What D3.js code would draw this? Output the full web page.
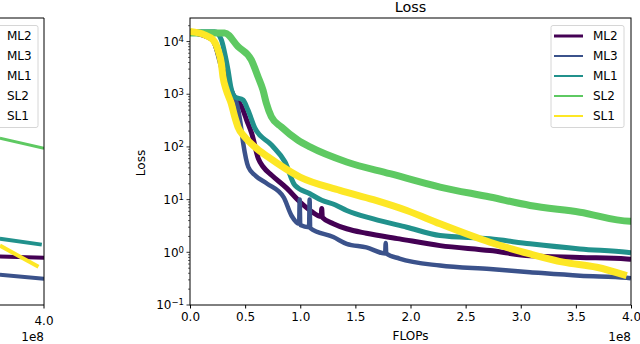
<!DOCTYPE html>
<html>
<head>
<meta charset="utf-8">
<script src="https://cdn.jsdelivr.net/npm/d3@7"></script>
<style>
  body { margin: 0; background: #fff; }
  svg { display: block; font-family: "DejaVu Sans", sans-serif; }
</style>
</head>
<body>
<div id="chart"></div>
<script>
// series names in legend order (viridis)
const names = ["ML2", "ML3", "ML1", "SL2", "SL1"];
const colors = ["#440154", "#3b528b", "#21918c", "#5ec962", "#fde725"];

// x in units of 1e8 FLOPs, y = loss
const ml2X = [0, 0.2, 0.3, 0.4, 0.469, 0.514, 0.56, 0.62, 0.665, 0.741, 0.877, 0.998, 1.1, 1.19, 1.195, 1.2, 1.3, 1.421, 1.6, 1.9, 2.268, 2.721, 3.084, 3.537, 3.961, 4.0];
const ml2Y = [15000, 11000, 3000, 900, 578, 323, 180, 60, 41.6, 29, 16.5, 9, 6, 4.8, 6.8, 4.6, 3.5, 2.8, 2.3, 1.8, 1.34, 1.08, 0.86, 0.8, 0.75, 0.74];

const ml3X = [0, 0.2, 0.3, 0.4, 0.424, 0.454, 0.483, 0.529, 0.59, 0.7, 0.85, 0.92, 0.99, 0.995, 1.0, 1.08, 1.085, 1.09, 1.3, 1.421, 1.6, 1.77, 1.775, 1.78, 1.9, 2.268, 2.721, 3.084, 3.537, 3.961, 4.0];
const ml3Y = [15000, 11000, 2500, 900, 671, 323, 116, 41.6, 29, 20, 11, 5, 3.5, 10, 3.3, 3.0, 10, 2.9, 1.95, 1.45, 1.24, 0.95, 1.5, 0.95, 0.76, 0.56, 0.48, 0.42, 0.36, 0.33, 0.32];

const ml1X = [0, 0.224, 0.284, 0.315, 0.345, 0.37, 0.406, 0.481, 0.526, 0.59, 0.741, 0.862, 0.952, 1.088, 1.195, 1.315, 1.421, 1.663, 1.966, 2.268, 2.721, 3.084, 3.537, 3.961, 4.0];
const ml1Y = [15300, 15300, 10800, 6010, 2890, 1390, 896, 776, 500, 224, 108, 51.8, 18.6, 12.9, 9.7, 8.0, 6.22, 4.32, 2.99, 2.08, 1.8, 1.45, 1.16, 1.0, 0.98];

const sl2X = [0, 0.315, 0.435, 0.556, 0.617, 0.662, 0.692, 0.738, 0.828, 0.98, 1.088, 1.421, 1.814, 2.268, 2.721, 3.084, 3.537, 3.991, 4.0];
const sl2Y = [14500, 14500, 8040, 4480, 2150, 1200, 680, 373, 240, 134, 100, 51.8, 31.1, 17.3, 11.2, 7.75, 5.78, 3.9, 3.9];

const sl1X = [0, 0.133, 0.209, 0.254, 0.284, 0.299, 0.329, 0.374, 0.406, 0.435, 0.496, 0.587, 0.708, 0.998, 1.36, 1.663, 1.966, 2.268, 2.721, 3.084, 3.386, 3.689, 3.961];
const sl1Y = [15500, 13400, 10800, 6950, 3880, 2150, 1200, 671, 373, 240, 155, 100, 64.6, 26.8, 15, 10, 6.22, 3.47, 1.55, 0.93, 0.65, 0.52, 0.36];

// tail of the neighbouring (cropped) panel on the left
const leftXs = [[3.6, 4.0], [3.6, 4.0], [3.6, 3.98], [3.6, 4.0], [3.6, 3.95]];
const leftYs = [[0.83, 0.79], [0.376, 0.315], [1.82, 1.40], [147, 94.4], [1.34, 0.53]];

const xTicks = [0, 0.5, 1.0, 1.5, 2.0, 2.5, 3.0, 3.5, 4.0];
const yTicks = [-1, 0, 1, 2, 3, 4];

const seriesX = [ml2X, ml3X, ml1X, sl2X, sl1X];
const seriesY = [ml2Y, ml3Y, ml1Y, sl2Y, sl1Y];
const lineW = [5, 4.5, 5, 7, 7];

const W = 640, H = 344;
const m = { left: 190, right: 631, top: 18, bottom: 305 };

const svg = d3.select("#chart").append("svg").attr("width", W).attr("height", H);

const x = d3.scaleLinear().domain([0, 4]).range([m.left, m.right]);
const y = d3.scaleLog().domain([0.1, 28000]).range([m.bottom, m.top]);
const xl = d3.scaleLinear().domain([0, 4]).range([44 - 441, 44]);

const defs = svg.append("defs");
defs.append("clipPath").attr("id", "clipR").append("rect")
  .attr("x", m.left).attr("y", m.top).attr("width", m.right - m.left).attr("height", m.bottom - m.top);
defs.append("clipPath").attr("id", "clipL").append("rect")
  .attr("x", 0).attr("y", m.top).attr("width", 44).attr("height", m.bottom - m.top);

/* ------- left cropped panel ------- */
const gl = svg.append("g");
const lineL = d3.line().x(d => xl(d[0])).y(d => y(d[1]));
leftYs.forEach(function(ys, i) {
  gl.append("path")
    .attr("clip-path", "url(#clipL)")
    .attr("d", lineL(leftXs[i].map((v, j) => [v, ys[j]])))
    .attr("fill", "none").attr("stroke", colors[i]).attr("stroke-width", i == 3 ? 3 : 4);
});
gl.append("path").attr("d", `M0,${m.top}H44V${m.bottom}H0`)
  .attr("fill", "none").attr("stroke", "#000").attr("stroke-width", 1);
gl.append("line").attr("x1", 44).attr("x2", 44).attr("y1", m.bottom).attr("y2", m.bottom + 3.5).attr("stroke", "#000");
gl.append("text").attr("x", 44).attr("y", 325).attr("text-anchor", "middle").attr("font-size", 12).text("4.0");
gl.append("text").attr("x", 44).attr("y", 341).attr("text-anchor", "end").attr("font-size", 12).text("1e8");
const legL = gl.append("g");
legL.append("rect").attr("x", -10).attr("y", 25.5).attr("width", 48).attr("height", 102)
  .attr("rx", 2).attr("fill", "#fff").attr("stroke", "#d6d6d6");
names.forEach(function(n, i) {
  legL.append("text").attr("x", 7).attr("y", 36 + i * 20).attr("dy", "0.35em")
    .attr("font-size", 12).text(n);
});

/* ------- main panel ------- */
const g = svg.append("g");
const line = d3.line().x(d => x(d[0])).y(d => y(d[1])).curve(d3.curveMonotoneX);
seriesX.forEach(function(xs, i) {
  g.append("path")
    .attr("clip-path", "url(#clipR)")
    .attr("d", line(xs.map((v, j) => [v, seriesY[i][j]])))
    .attr("fill", "none")
    .attr("stroke", colors[i])
    .attr("stroke-width", lineW[i])
    .attr("stroke-linejoin", "round");
});

// x axis
const xAxis = d3.axisBottom(x).tickValues(xTicks).tickSize(3.5).tickPadding(3.5)
  .tickFormat(d3.format(".1f"));
g.append("g").attr("transform", `translate(0,${m.bottom})`).call(xAxis)
  .call(s => s.select(".domain").remove())
  .call(s => s.selectAll("text").attr("font-size", 12).attr("font-family", "DejaVu Sans").attr("fill", "#000"));

// y axis: major + minor ticks
const minor = [];
for (let e = -1; e < 5; e++) for (let k = 2; k < 10; k++) {
  const v = k * Math.pow(10, e);
  if (v < 28000) minor.push(v);
}
g.selectAll("line.minor").data(minor).enter().append("line")
  .attr("x1", m.left - 2).attr("x2", m.left).attr("y1", d => y(d)).attr("y2", d => y(d))
  .attr("stroke", "#000").attr("stroke-width", 0.6);
const yt = g.selectAll("g.ytick").data(yTicks).enter().append("g")
  .attr("transform", d => `translate(0,${y(Math.pow(10, d))})`);
yt.append("line").attr("x1", m.left - 3.5).attr("x2", m.left).attr("stroke", "#000").attr("stroke-width", 0.8);
const ytx = yt.append("text").attr("x", m.left - 6).attr("dy", "0.35em").attr("text-anchor", "end").attr("font-size", 12);
ytx.append("tspan").text("10");
ytx.append("tspan").attr("dy", "-0.45em").attr("font-size", 8.5).text(d => d < 0 ? "\u22121" : d);

// frame
g.append("rect").attr("x", m.left).attr("y", m.top).attr("width", m.right - m.left).attr("height", m.bottom - m.top)
  .attr("fill", "none").attr("stroke", "#000").attr("stroke-width", 1);

// labels
svg.append("text").attr("x", (m.left + m.right) / 2).attr("y", 12).attr("text-anchor", "middle").attr("font-size", 14.4).text("Loss");
svg.append("text").attr("x", (m.left + m.right) / 2).attr("y", 340).attr("text-anchor", "middle").attr("font-size", 12).text("FLOPs");
svg.append("text").attr("x", m.right).attr("y", 341).attr("text-anchor", "end").attr("font-size", 12).text("1e8");
svg.append("text").attr("transform", `translate(145,163) rotate(-90)`)
  .attr("text-anchor", "middle").attr("font-size", 12).text("Loss");

// legend
const leg = svg.append("g");
leg.append("rect").attr("x", 551).attr("y", 25.5).attr("width", 73).attr("height", 102)
  .attr("rx", 2).attr("fill", "#fff").attr("fill-opacity", 0.8).attr("stroke", "#d6d6d6");
names.forEach(function(n, i) {
  const yy = 36 + i * 20;
  leg.append("line").attr("x1", 554).attr("x2", 583).attr("y1", yy).attr("y2", yy)
    .attr("stroke", colors[i]).attr("stroke-width", i == 0 ? 3 : 2);
  leg.append("text").attr("x", 593).attr("y", yy).attr("dy", "0.35em").attr("font-size", 12).text(n);
});
</script>
</body>
</html>
